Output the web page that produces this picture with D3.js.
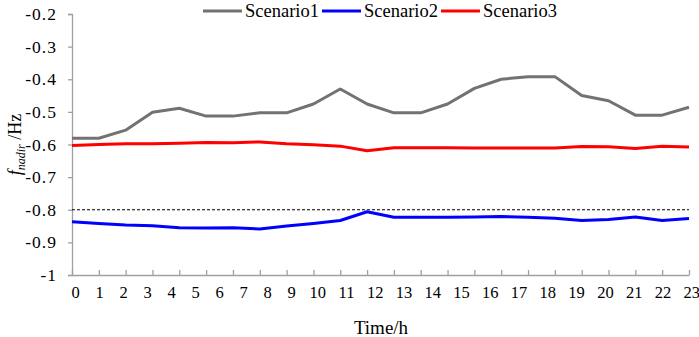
<!DOCTYPE html>
<html>
<head>
<meta charset="utf-8">
<script src="https://cdn.jsdelivr.net/npm/d3@7"></script>
<style>
  body { margin: 0; background: #fff; }
  svg text { font-family: "Liberation Serif", "Times New Roman", serif; fill: #000; }
</style>
</head>
<body>
<div id="chart"></div>
<script>
// Hourly frequency nadir for three scenarios
const hours = d3.range(0, 24);
const scenario1 = [-0.581, -0.581, -0.556, -0.501, -0.489, -0.513, -0.513, -0.503, -0.503, -0.476,
                   -0.430, -0.476, -0.503, -0.503, -0.476, -0.428, -0.400, -0.392, -0.392, -0.450,
                   -0.466, -0.510, -0.510, -0.486];
const scenario2 = [-0.837, -0.842, -0.847, -0.849, -0.855, -0.856, -0.855, -0.859, -0.850, -0.842,
                   -0.833, -0.806, -0.823, -0.823, -0.823, -0.822, -0.821, -0.823, -0.826, -0.833,
                   -0.830, -0.822, -0.833, -0.827];
const scenario3 = [-0.603, -0.600, -0.598, -0.598, -0.596, -0.594, -0.595, -0.592, -0.598, -0.601,
                   -0.605, -0.619, -0.610, -0.610, -0.610, -0.611, -0.611, -0.611, -0.611, -0.606,
                   -0.607, -0.612, -0.605, -0.608];
const seriesNames = ['Scenario1', 'Scenario2', 'Scenario3'];
const seriesColors = ['#767171', '#0000ff', '#ff0000'];
const yTicks = [-1, -0.9, -0.8, -0.7, -0.6, -0.5, -0.4, -0.3, -0.2];
const yTickLabels = ['-1', '-0.9', '-0.8', '-0.7', '-0.6', '-0.5', '-0.4', '-0.3', '-0.2'];
const thresholdValue = -0.8;

const W = 699, H = 337;
const margin = {top: 14, right: 10, bottom: 62, left: 72};
const width = 689 - margin.left;
const height = 275 - margin.top;

const svg = d3.select('#chart').append('svg')
    .attr('width', W)
    .attr('height', H);

const g = svg.append('g')
    .attr('transform', `translate(${margin.left},${margin.top})`);

const x = d3.scaleLinear().domain([0, 23]).range([0, width]);
const y = d3.scaleLinear().domain([-1, -0.2]).range([height, 0]);

// the hour labels in the original are not aligned with the ticks
const labelX = d3.scaleLinear().domain([0, 9, 10, 23]).range([3.7, 219.7, 245.7, 619.7]);

const axisColor = '#a0a0a0';

// y axis
const yAxis = g.append('g')
    .call(d3.axisLeft(y).tickValues(yTicks).tickSize(4).tickPadding(11)
        .tickFormat((d, i) => yTickLabels[i]));
yAxis.select('.domain').attr('stroke', axisColor).attr('stroke-width', 1.3);
yAxis.selectAll('.tick line').attr('stroke', axisColor).attr('stroke-width', 1.3);
yAxis.selectAll('.tick text')
    .style('font-size', '17.5px')
    .style('letter-spacing', '1px')
    .attr('fill', '#000');

// x axis (ticks point inward)
const xAxis = g.append('g')
    .attr('transform', `translate(0,${height})`)
    .call(d3.axisBottom(x).tickValues(hours).tickSizeInner(-5).tickSizeOuter(0).tickFormat(''));
xAxis.select('.domain').attr('stroke', axisColor).attr('stroke-width', 1.3);
xAxis.selectAll('.tick line').attr('stroke', axisColor).attr('stroke-width', 1.3);

g.append('g').selectAll('text')
    .data(hours)
    .enter().append('text')
    .attr('x', d => labelX(d))
    .attr('y', height + 23)
    .attr('text-anchor', 'middle')
    .style('font-size', '16.5px')
    .text(d => d);

// threshold line
g.append('line')
    .attr('x1', 0).attr('x2', width)
    .attr('y1', y(thresholdValue)).attr('y2', y(thresholdValue))
    .attr('stroke', '#000')
    .attr('stroke-width', 1.2)
    .attr('stroke-dasharray', '3,2');

// series
const allSeries = [scenario1, scenario2, scenario3];
const line = d3.line()
    .x((d, i) => x(hours[i]))
    .y(d => y(d));

allSeries.forEach((values, k) => {
    g.append('path')
        .datum(values)
        .attr('fill', 'none')
        .attr('stroke', seriesColors[k])
        .attr('stroke-width', 3)
        .attr('stroke-linejoin', 'round')
        .attr('d', line);
});

// legend
const legend = svg.append('g').attr('transform', 'translate(203,11)');
let lx = 0;
seriesNames.forEach((name, k) => {
    legend.append('line')
        .attr('x1', lx).attr('x2', lx + 39)
        .attr('y1', 0).attr('y2', 0)
        .attr('stroke', seriesColors[k])
        .attr('stroke-width', 3);
    const t = legend.append('text')
        .attr('x', lx + 42)
        .attr('y', 6)
        .style('font-size', '18.5px')
        .text(name);
    lx += 42 + t.node().getComputedTextLength() + 3;
});

// axis titles
const yTitle = svg.append('text')
    .attr('transform', `translate(21,${margin.top + height / 2}) rotate(-90)`)
    .attr('text-anchor', 'middle')
    .style('font-size', '18px');
yTitle.append('tspan').style('font-style', 'italic').text('f');
yTitle.append('tspan').style('font-style', 'italic').style('font-size', '12px')
    .attr('dy', 4).text('nadir');
yTitle.append('tspan').attr('dy', -4).text(' /Hz');

svg.append('text')
    .attr('x', 381)
    .attr('y', 334)
    .attr('text-anchor', 'middle')
    .style('font-size', '19px')
    .text('Time/h');
</script>
</body>
</html>
